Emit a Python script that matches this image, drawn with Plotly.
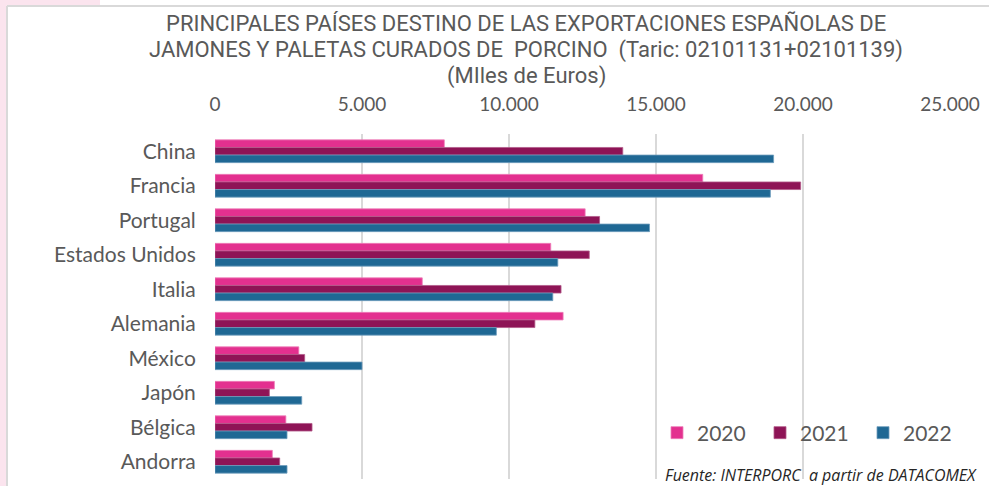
import plotly.graph_objects as go

# Export values, thousands of euros
paises = ["China", "Francia", "Portugal", "Estados Unidos", "Italia",
          "Alemania", "México", "Japón", "Bélgica", "Andorra"]
valores_2020 = [7800, 16590, 12590, 11420, 7050, 11840, 2850, 2020, 2410, 1950]
valores_2021 = [13870, 19920, 13080, 12730, 11770, 10880, 3050, 1850, 3300, 2200]
valores_2022 = [19000, 18890, 14780, 11660, 11490, 9570, 5000, 2950, 2450, 2450]

tick_vals = [0, 5000, 10000, 15000, 20000, 25000]
tick_text = ["0", "5.000", "10.000", "15.000", "20.000", "25.000"]

titulo = [
    "PRINCIPALES PAÍSES DESTINO DE LAS EXPORTACIONES ESPAÑOLAS DE",
    "JAMONES Y PALETAS CURADOS DE  PORCINO  (Taric: 02101131+02101139)",
    "(MIles de Euros)",
]
fuente = "Fuente: INTERPORC  a partir de DATACOMEX"

series = [
    ("2020", valores_2020, "#E3308F", "#EE7DB9"),
    ("2021", valores_2021, "#8E1456", "#B35A89"),
    ("2022", valores_2022, "#1F6894", "#6F9DBC"),
]

W, H = 989, 486
ML, MR, MT, MB = 215, 39, 134, 7
PW, PH = W - ML - MR, H - MT - MB


def px_x(p):
    return (p - ML) / PW


def px_y(p):
    return (H - MB - p) / PH


fig = go.Figure()
for name, vals, color, edge in series:
    fig.add_trace(go.Bar(
        y=paises, x=vals, name=name, orientation="h",
        marker=dict(color=color, line=dict(color=edge, width=0.8)),
    ))

GREY = "#595959"
fig.update_layout(
    width=W, height=H,
    margin=dict(l=ML, r=MR, t=MT, b=MB),
    paper_bgcolor="white", plot_bgcolor="white",
    barmode="group", bargap=0.34, bargroupgap=0,
    xaxis=dict(
        side="top", range=[0, 25000],
        tickvals=tick_vals, ticktext=tick_text,
        showgrid=True, gridcolor="#D9D9D9", gridwidth=2,
        zeroline=False, showline=False,
        ticks="outside", ticklen=14, tickcolor="rgba(0,0,0,0)",
        tickfont=dict(family="Lato, sans-serif", size=19, color=GREY),
    ),
    yaxis=dict(
        autorange="reversed", showgrid=False, zeroline=False, showline=False,
        ticks="outside", ticklen=14, tickcolor="rgba(0,0,0,0)",
        tickfont=dict(family="Lato, sans-serif", size=21, color=GREY),
    ),
    legend=dict(
        orientation="h", x=px_x(657), xanchor="left",
        y=px_y(433), yanchor="middle",
        bgcolor="rgba(0,0,0,0)",
        font=dict(family="Lato, sans-serif", size=21, color=GREY),
        entrywidth=58, entrywidthmode="pixels",
    ),
    showlegend=True,
)

# Frame around the chart and the tinted page edge
fig.add_shape(type="rect", xref="paper", yref="paper",
              x0=px_x(0), x1=px_x(6), y0=px_y(H), y1=px_y(0),
              fillcolor="#FBE4EE", line=dict(width=0), layer="below")
fig.add_shape(type="rect", xref="paper", yref="paper",
              x0=px_x(0), x1=px_x(100), y0=px_y(6), y1=px_y(0),
              fillcolor="#FBE4EE", line=dict(width=0), layer="below")
fig.add_shape(type="line", xref="paper", yref="paper",
              x0=px_x(7), x1=px_x(7), y0=px_y(H), y1=px_y(6),
              line=dict(color="#D9D9D9", width=2))
fig.add_shape(type="line", xref="paper", yref="paper",
              x0=px_x(7), x1=px_x(W), y0=px_y(6), y1=px_y(6),
              line=dict(color="#D9D9D9", width=2))

# Three-line heading
for linea, yc in zip(titulo, [23, 50, 76]):
    fig.add_annotation(
        text=linea, xref="paper", yref="paper",
        x=px_x(526), y=px_y(yc), xanchor="center", yanchor="middle",
        showarrow=False,
        font=dict(family="Roboto, sans-serif", size=22, color=GREY),
    )

fig.add_annotation(
    text="<i>" + fuente + "</i>",
    xref="paper", yref="paper", x=px_x(979), y=px_y(475),
    xanchor="right", yanchor="middle", showarrow=False,
    font=dict(family="Open Sans, sans-serif", size=16, color="#262626"),
)

fig.write_html("out.html")
